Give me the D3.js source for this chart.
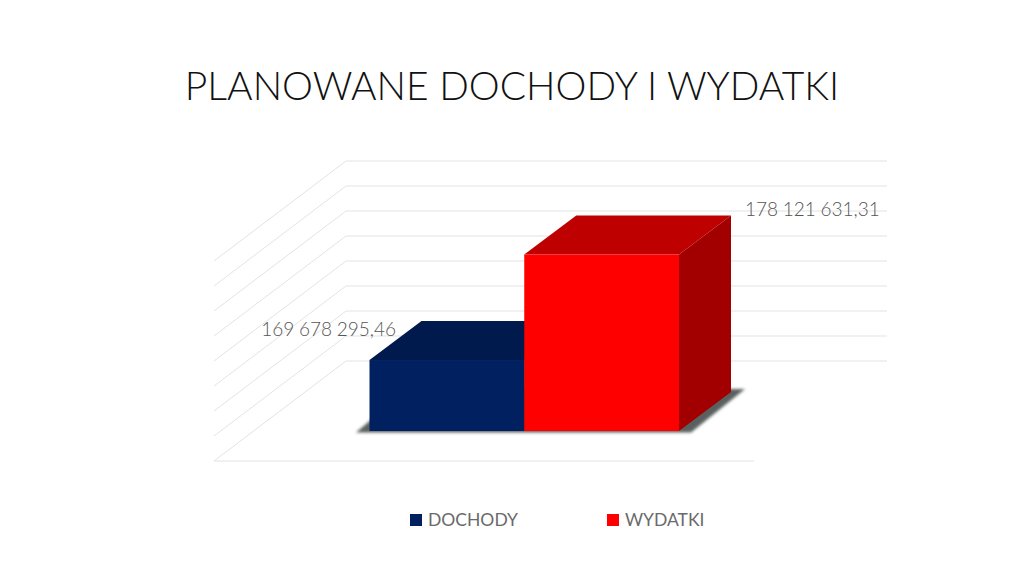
<!DOCTYPE html>
<html>
<head>
    <meta charset="utf-8">
    <title>Planowane dochody i wydatki</title>
    <style>
        body { margin: 0; background: #fff; font-family: Lato, sans-serif; }
        svg { display: block; }
        .grid { stroke: #e3e3e3; stroke-width: 1; fill: none; }
        .label { fill: #555; font-size: 19px; font-weight: 300; word-spacing: -0.5px; }
        .legend { fill: #6a6a6a; font-size: 17.5px; }
    </style>
</head>
<body>
    <svg id="chart" width="1024" height="576"></svg>
    <script src="https://d3js.org/d3.v7.min.js"></script>
    <script>
        // Data
        const titleText = "PLANOWANE DOCHODY I WYDATKI";
        const categories = ["DOCHODY", "WYDATKI"];
        const values = [169678295.46, 178121631.31];
        const axisDomain = [164000000, 180000000];
        const tickStep = 2000000;
        const frontColors = ["#002060", "#ff0000"];
        const topColors = ["#001a4e", "#bf0000"];
        const sideColors = ["#00133a", "#a20000"];

        const svg = d3.select("#chart");
        const plFormat = d3.formatLocale({decimal: ",", thousands: " ", grouping: [3], currency: ["", ""]}).format(",.2f");

        // Scales (back wall for gridlines, bar front plane for bars)
        const yWall = d3.scaleLinear().domain(axisDomain).range([361, 161]);
        const yBar = d3.scaleLinear().domain(axisDomain).range([431, 231]);
        const x = d3.scaleBand().domain(categories).range([369.5, 679]);
        const ticks = d3.range(axisDomain[0], axisDomain[1] + 1, tickStep);

        // Depth of floor and of the bars
        const floorDx = 132, floorDy = 100;
        const barDx = 52, barDy = 39;

        const defs = svg.append("defs");
        defs.append("filter").attr("id", "soft").attr("x", "-10%").attr("y", "-10%").attr("width", "120%").attr("height", "120%")
            .append("feGaussianBlur").attr("stdDeviation", 1.6);
        defs.append("filter").attr("id", "softLine")
            .attr("filterUnits", "userSpaceOnUse").attr("x", 0).attr("y", 0).attr("width", 1024).attr("height", 576)
            .append("feGaussianBlur").attr("stdDeviation", 0.3);

        // Title
        svg.append("text")
            .attr("x", 512).attr("y", 100)
            .attr("text-anchor", "middle")
            .attr("font-size", 39).attr("font-weight", 300).attr("fill", "#111")
            .text(titleText);

        // Gridlines
        const grid = svg.append("g").attr("filter", "url(#softLine)");
        grid.selectAll("path.wall")
            .data(ticks)
            .enter().append("path")
            .attr("class", "grid wall")
            .attr("d", d => `M${214},${yWall(d) + floorDy}L${214 + floorDx},${yWall(d)}H887`);
        grid.append("path")
            .attr("class", "grid")
            .attr("d", `M214,${yWall(axisDomain[0]) + floorDy}H${887 - floorDx - 1}`);

        // Floor shadow
        const x0 = x.range()[0], x1 = x.range()[1], yBase = yBar(axisDomain[0]);
        svg.append("polygon")
            .attr("points", [[356, yBase + 1.5], [x1 + 12, yBase + 1.5], [x1 + barDx + 14, yBase - barDy - 3], [x0 + barDx - 14, yBase - barDy - 3]].join(" "))
            .attr("fill", "#5a605e")
            .attr("filter", "url(#soft)");

        // Bars
        const bar = svg.append("g").selectAll("g")
            .data(categories)
            .enter().append("g");

        bar.append("polygon")
            .attr("fill", (d, i) => topColors[i])
            .attr("points", (d, i) => {
                const l = x(d), r = l + x.bandwidth(), t = yBar(values[i]);
                return [[l, t], [l + barDx, t - barDy], [r + barDx, t - barDy], [r, t]].join(" ");
            });
        bar.append("polygon")
            .attr("fill", (d, i) => sideColors[i])
            .attr("points", (d, i) => {
                const r = x(d) + x.bandwidth(), t = yBar(values[i]);
                return [[r, t], [r + barDx, t - barDy], [r + barDx, yBase - barDy], [r, yBase]].join(" ");
            });
        bar.append("rect")
            .attr("x", d => x(d))
            .attr("y", (d, i) => yBar(values[i]))
            .attr("width", x.bandwidth())
            .attr("height", (d, i) => yBase - yBar(values[i]))
            .attr("fill", (d, i) => frontColors[i]);

        // Value labels
        svg.append("text").attr("class", "label")
            .attr("x", 396).attr("y", yBar(values[0]) - 24).attr("text-anchor", "end")
            .text(plFormat(values[0]));
        svg.append("text").attr("class", "label")
            .attr("x", 745).attr("y", yBar(values[1]) - 38).attr("text-anchor", "start")
            .text(plFormat(values[1]));

        // Legend
        const legendX = d3.scalePoint().domain(categories).range([410, 607]);
        const legend = svg.append("g").selectAll("g")
            .data(categories)
            .enter().append("g")
            .attr("transform", d => `translate(${legendX(d)},514)`);
        legend.append("rect")
            .attr("width", 12).attr("height", 12)
            .attr("fill", (d, i) => frontColors[i]);
        legend.append("text")
            .attr("class", "legend")
            .attr("x", 18).attr("y", 12)
            .text(d => d);
    </script>
</body>
</html>
